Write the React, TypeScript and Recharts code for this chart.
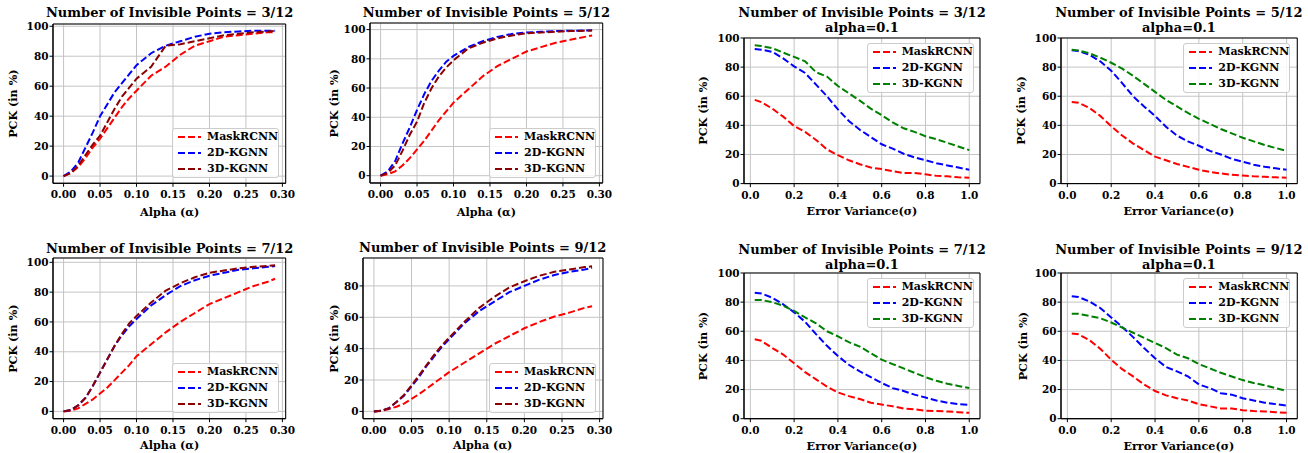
import React from 'react';
import { LineChart, Line, XAxis, YAxis, CartesianGrid, ReferenceArea } from 'recharts';

const FONT = "'DejaVu Serif', 'Liberation Serif', serif";

// ---------- data ----------
const SERIES_NAMES = ['MaskRCNN', '2D-KGNN', '3D-KGNN'];
const ALPHA_X = [0, 0.01, 0.02, 0.03, 0.04, 0.05, 0.06, 0.07, 0.08, 0.09, 0.1, 0.12, 0.14, 0.16, 0.18, 0.2, 0.22, 0.24, 0.26, 0.28, 0.29];
const SIGMA_X = [0.02, 0.05, 0.1, 0.15, 0.2, 0.25, 0.3, 0.35, 0.4, 0.45, 0.5, 0.55, 0.6, 0.65, 0.7, 0.75, 0.8, 0.85, 0.9, 0.95, 1.0];
const ALPHA_TICKS = [0, 0.05, 0.1, 0.15, 0.2, 0.25, 0.3];
const SIGMA_TICKS = [0, 0.2, 0.4, 0.6, 0.8, 1.0];
const Y_TICKS_100 = [0, 20, 40, 60, 80, 100];
const Y_TICKS_80 = [0, 20, 40, 60, 80];

// alpha panels
const A3_MASK = [0, 2, 6, 12, 19, 25, 32, 39, 46, 52, 57, 67, 73, 81, 87, 90, 93, 94, 95, 96, 96];
const A3_2D = [0, 3, 9, 19, 29, 40, 48, 56, 62, 68, 74, 82, 87, 90, 93, 95, 96, 96.5, 97, 97, 97];
const A3_3D = [0, 2, 7, 14, 21, 27, 36, 45, 53, 59, 65, 73, 87, 88, 90, 92, 94, 95, 96, 96.5, 97];

const A5_MASK = [0, 1, 3, 7, 12, 18, 24, 31, 38, 44, 50, 59, 68, 75, 80, 85, 88, 91, 93, 95, 96];
const A5_2D = [0, 3, 10, 22, 33, 45, 56, 65, 72, 78, 82, 88, 92, 95, 97, 98, 98.5, 99, 99.2, 99.4, 99.5];
const A5_3D = [0, 2, 7, 17, 28, 37, 50, 60, 68, 74, 79, 87, 91, 94, 96, 97.5, 98, 98.5, 99, 99.2, 99.3];

const A7_MASK = [0, 0.5, 2, 5, 8, 12, 16, 21, 26, 31, 37, 45, 53, 60, 66, 72, 76, 80, 84, 87, 89];
const A7_2D = [0, 1, 4, 9, 17, 26, 35, 44, 51, 57, 62, 71, 78, 84, 88, 91, 93, 95, 96, 97, 97.5];
const A7_3D = [0, 1, 4, 9, 17, 26, 35, 44, 52, 59, 64, 73, 81, 86, 90, 93, 94.5, 96, 97, 97.5, 98];

const A9_MASK = [0, 0.3, 1.5, 3, 5, 8, 11, 14.5, 18, 21.5, 25, 31, 37, 43, 48, 53, 57, 60.5, 63, 66, 67];
const A9_2D = [0, 0.5, 2, 6, 10, 16, 22, 29, 35, 41, 46, 56, 64, 70, 76, 80, 84, 87, 89, 90.5, 91.5];
const A9_3D = [0, 0.5, 2, 6, 10.5, 16.5, 23, 29.5, 36, 42, 47, 57, 66, 73, 79, 83, 86.5, 89, 90.5, 92, 92.5];

// sigma panels
const S3_MASK = [57.5, 56, 51.5, 46, 39.5, 35.5, 30, 23.5, 19.5, 16, 13.3, 11, 10, 8.5, 7.3, 7.3, 6.4, 5.3, 5, 4.3, 4];
const S3_2D = [92.5, 92, 90.5, 86, 80.5, 76, 68, 60, 51, 43, 37, 32, 27, 24, 20.5, 18, 16, 14, 12.5, 11, 9.5];
const S3_3D = [95, 94.5, 93, 90, 87, 84, 76.5, 73.5, 67, 62, 57, 51.5, 47, 42, 38, 35.5, 32.5, 30.5, 28, 25.5, 23];

const S5_MASK = [56, 55.5, 52, 46.5, 39.5, 33, 27.5, 23, 18.5, 16, 13.5, 11.5, 9.5, 8, 7, 6, 5.5, 5, 4.7, 4.3, 4];
const S5_2D = [91.5, 91, 88.5, 84, 77.5, 69, 60, 53, 46.5, 39, 33, 29, 26, 22.5, 20, 17, 15, 13, 11.5, 10.5, 9.5];
const S5_3D = [92, 91.5, 89.5, 86.5, 83, 79, 74, 68.5, 63, 57.5, 53, 48.5, 44.5, 41, 37.5, 34.5, 31.5, 29, 26.5, 24.5, 22.5];

const S7_MASK = [54.5, 53.5, 48.5, 44, 38, 32, 27, 22, 18, 15.5, 13.5, 11, 9.7, 8.5, 7, 6.5, 5.5, 5.2, 5, 4.5, 4];
const S7_2D = [86.5, 86, 83, 78.5, 73, 66.5, 58, 50, 43, 37, 32.5, 28.5, 24.5, 21, 19, 16.5, 14.5, 12.5, 11, 10, 9.5];
const S7_3D = [81.5, 81.5, 80, 77.5, 74, 69.5, 65.5, 60, 56.5, 52.5, 49.5, 45, 40.5, 37.5, 34.5, 31.5, 28.5, 26, 24, 22.5, 21];

const S9_MASK = [58.5, 58, 54, 48, 40.5, 34, 29, 23.5, 19, 16, 14, 12.5, 10, 8.5, 7, 7, 5.8, 5.2, 5, 4.5, 4];
const S9_2D = [84, 83.5, 80.5, 76, 69.5, 63, 56, 48.5, 41.5, 35.5, 32.5, 29, 23.5, 21, 17.5, 16.5, 14, 12.5, 11, 10, 9];
const S9_3D = [72, 72, 70.5, 69, 66, 62.5, 59, 55.5, 52, 48.5, 44, 41.5, 37.5, 34.5, 31.5, 29, 26.5, 24.5, 23, 21, 19];

// ---------- panel definitions ----------
type Lay = {
  l: number; t: number; r: number; b: number;
  xDom: [number, number]; yDom: [number, number];
  titleY: number[]; xlabY: number; ylabX: number; leg: [number, number];
};

const ALPHA_COLORS = ['#ff0000', '#0000ff', '#8b0000'];
const SIGMA_COLORS = ['#ff0000', '#0000ff', '#008000'];

const PANELS = [
  { kind: 'alpha', title: ['Number of Invisible Points = 3/12'], series: [A3_MASK, A3_2D, A3_3D], yTicks: Y_TICKS_100 },
  { kind: 'alpha', title: ['Number of Invisible Points = 5/12'], series: [A5_MASK, A5_2D, A5_3D], yTicks: Y_TICKS_100 },
  { kind: 'sigma', title: ['Number of Invisible Points = 3/12', 'alpha=0.1'], series: [S3_MASK, S3_2D, S3_3D], yTicks: Y_TICKS_100 },
  { kind: 'sigma', title: ['Number of Invisible Points = 5/12', 'alpha=0.1'], series: [S5_MASK, S5_2D, S5_3D], yTicks: Y_TICKS_100 },
  { kind: 'alpha', title: ['Number of Invisible Points = 7/12'], series: [A7_MASK, A7_2D, A7_3D], yTicks: Y_TICKS_100 },
  { kind: 'alpha', title: ['Number of Invisible Points = 9/12'], series: [A9_MASK, A9_2D, A9_3D], yTicks: Y_TICKS_80 },
  { kind: 'sigma', title: ['Number of Invisible Points = 7/12', 'alpha=0.1'], series: [S7_MASK, S7_2D, S7_3D], yTicks: Y_TICKS_100 },
  { kind: 'sigma', title: ['Number of Invisible Points = 9/12', 'alpha=0.1'], series: [S9_MASK, S9_2D, S9_3D], yTicks: Y_TICKS_100 },
];

const LAYOUTS: Lay[] = [
  { l: 53.3, t: 24, r: 286, b: 183.3, xDom: [-0.0145, 0.3045], yDom: [-4.8, 101.5], titleY: [12], xlabY: 212, ylabX: 13, leg: [172, 128] },
  { l: 370, t: 23.3, r: 602.7, b: 183.3, xDom: [-0.0145, 0.3045], yDom: [-5, 104.5], titleY: [12.5], xlabY: 211.5, ylabX: 334, leg: [489, 128] },
  { l: 744, t: 37.7, r: 980, b: 183.3, xDom: [-0.029, 1.049], yDom: [0, 100], titleY: [12.5, 27], xlabY: 210.7, ylabX: 703, leg: [866.7, 42.7] },
  { l: 1060.7, t: 37.7, r: 1297, b: 183.3, xDom: [-0.029, 1.049], yDom: [0, 100], titleY: [12.5, 27], xlabY: 210.7, ylabX: 1021, leg: [1183.3, 42.7] },
  { l: 53.3, t: 258.3, r: 286, b: 419, xDom: [-0.0145, 0.3045], yDom: [-4.9, 102.9], titleY: [248], xlabY: 445, ylabX: 13, leg: [172, 363] },
  { l: 362.7, t: 258.3, r: 602.7, b: 419, xDom: [-0.0145, 0.3045], yDom: [-4.65, 97.8], titleY: [247.7], xlabY: 445, ylabX: 334, leg: [489, 363] },
  { l: 744, t: 273.3, r: 980, b: 419, xDom: [-0.029, 1.049], yDom: [0, 100], titleY: [249, 264], xlabY: 446, ylabX: 703, leg: [866.7, 278] },
  { l: 1060.7, t: 273.3, r: 1297, b: 419, xDom: [-0.029, 1.049], yDom: [0, 100], titleY: [249, 264], xlabY: 446, ylabX: 1023, leg: [1183.3, 278] },
];

const TICK_FS = 10.5;
const LABEL_FS = 11.2;
const TITLE_FS = 13;
const LEGEND_FS = 11;
const DASH = '7 3';

function Legend({ colors, x, y }: { colors: string[]; x: number; y: number }) {
  return (
    <div
      style={{
        position: 'absolute', left: x, top: y, width: 107, height: 50, boxSizing: 'border-box',
        border: '1px solid #cccccc', borderRadius: 3, background: 'rgba(255,255,255,0.85)',
        fontFamily: FONT, fontWeight: 'bold', fontSize: LEGEND_FS, color: '#000',
      }}
    >
      {SERIES_NAMES.map((n, i) => (
        <div key={n} style={{ position: 'absolute', left: 0, top: 0 + i * 16, height: 16, display: 'flex', alignItems: 'center' }}>
          <svg width={34} height={16} style={{ display: 'block' }}>
            <line x1={5} y1={8} x2={28} y2={8} stroke={colors[i]} strokeWidth={2} strokeDasharray={DASH} />
          </svg>
          <span style={{ lineHeight: '16px', whiteSpace: 'nowrap' }}>{n}</span>
        </div>
      ))}
    </div>
  );
}

function Panel({ idx }: { idx: number }) {
  const p = PANELS[idx];
  const lay = LAYOUTS[idx];
  const isAlpha = p.kind === 'alpha';
  const xs = isAlpha ? ALPHA_X : SIGMA_X;
  const colors = isAlpha ? ALPHA_COLORS : SIGMA_COLORS;
  const rows = xs.map((x, i) => ({ x, s0: p.series[0][i], s1: p.series[1][i], s2: p.series[2][i] }));
  const padL = 42, padT = 8, padR = 18, padB = 26;
  const w = lay.r - lay.l, h = lay.b - lay.t;
  const tickStyle = { fill: '#000', fontSize: TICK_FS, fontFamily: FONT, fontWeight: 'bold' as const };
  return (
    <div style={{ position: 'absolute', left: lay.l - padL, top: lay.t - padT }}>
      <LineChart width={padL + w + padR} height={padT + h + padB} data={rows} margin={{ top: padT, right: padR, bottom: 0, left: 0 }}>
        <CartesianGrid stroke="#c4c4c4" strokeWidth={1} />
        <XAxis
          type="number" dataKey="x" domain={lay.xDom} allowDataOverflow
          ticks={isAlpha ? ALPHA_TICKS : SIGMA_TICKS} interval={0}
          tickFormatter={(v: number) => (isAlpha ? v.toFixed(2) : v.toFixed(1))}
          height={padB} tick={tickStyle} tickSize={3.5} tickMargin={4}
          stroke="#000" axisLine={{ stroke: '#000' }} tickLine={{ stroke: '#000' }}
        />
        <YAxis
          type="number" domain={lay.yDom} allowDataOverflow ticks={p.yTicks} interval={0}
          width={padL} tick={tickStyle} tickSize={3.5} tickMargin={1}
          stroke="#000" axisLine={{ stroke: '#000' }} tickLine={{ stroke: '#000' }}
        />
        <ReferenceArea x1={lay.xDom[0]} x2={lay.xDom[1]} y1={lay.yDom[0]} y2={lay.yDom[1]} fill="none" stroke="#000" strokeWidth={1} ifOverflow="visible" />
        {[0, 1, 2].map((i) => (
          <Line
            key={i} type="linear" dataKey={`s${i}`} name={SERIES_NAMES[i]} stroke={colors[i]} strokeWidth={2}
            strokeDasharray={DASH} dot={false} activeDot={false} isAnimationActive={false}
          />
        ))}
      </LineChart>
    </div>
  );
}

function TextOverlay() {
  const items: React.ReactNode[] = [];
  PANELS.forEach((p, idx) => {
    const lay = LAYOUTS[idx];
    const cx = (lay.l + lay.r) / 2;
    const cy = (lay.t + lay.b) / 2;
    p.title.forEach((line, j) => {
      items.push(
        <text key={`t${idx}-${j}`} x={cx} y={lay.titleY[j] + TITLE_FS * 0.36} textAnchor="middle" fontSize={TITLE_FS} fontWeight="bold" fontFamily={FONT} fill="#000">
          {line}
        </text>
      );
    });
    items.push(
      <text key={`x${idx}`} x={cx} y={lay.xlabY + LABEL_FS * 0.36} textAnchor="middle" fontSize={LABEL_FS} fontWeight="bold" fontFamily={FONT} fill="#000">
        {p.kind === 'alpha' ? 'Alpha (α)' : 'Error Variance(σ)'}
      </text>
    );
    items.push(
      <text key={`y${idx}`} x={0} y={0} transform={`translate(${lay.ylabX + LABEL_FS * 0.36},${cy}) rotate(-90)`} textAnchor="middle" fontSize={LABEL_FS} fontWeight="bold" fontFamily={FONT} fill="#000">
        PCK (in %)
      </text>
    );
  });
  return (
    <svg width={1308} height={453} style={{ position: 'absolute', left: 0, top: 0, pointerEvents: 'none' }}>
      {items}
    </svg>
  );
}

export default function App() {
  return (
    <div style={{ position: 'absolute', left: 0, top: 0, width: 1308, height: 453, background: '#fff', overflow: 'hidden' }}>
      {PANELS.map((_, i) => (
        <Panel key={i} idx={i} />
      ))}
      {PANELS.map((p, i) => (
        <Legend key={`l${i}`} colors={p.kind === 'alpha' ? ALPHA_COLORS : SIGMA_COLORS} x={LAYOUTS[i].leg[0]} y={LAYOUTS[i].leg[1]} />
      ))}
      <TextOverlay />
    </div>
  );
}
